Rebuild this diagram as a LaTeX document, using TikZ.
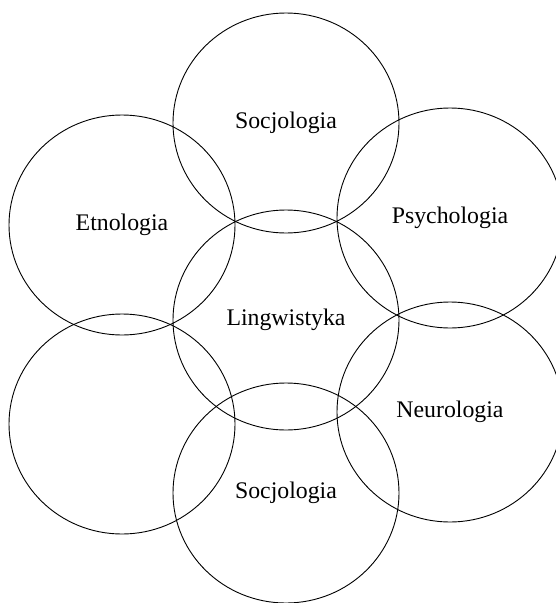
\documentclass[tikz,border=0pt]{standalone}
\usepackage{fontspec}
\setmainfont{Liberation Serif}
\usetikzlibrary{shapes.geometric}

\begin{document}
\begin{tikzpicture}[
    x=1pt,y=-1pt,
    field/.style={
        ellipse,draw,line width=0.9pt,
        minimum width=226pt,minimum height=220pt,inner sep=0pt,
        font=\fontsize{23.8}{28}\selectfont
    },
]
    \clip (0,0) rectangle (556,603);
    \node[field] (ling) at (286,320) {Lingwistyka};
    \node[field] (soctop) at (286,123) {Socjologia};
    \node[field] (etno) at (122,225) {Etnologia};
    \node[field] (psych) at (450,218) {Psychologia};
    \node[field] (blank) at (122,424) {};
    \node[field] (neuro) at (450,412) {Neurologia};
    \node[field] (socbot) at (286,493) {Socjologia};
\end{tikzpicture}
\end{document}
